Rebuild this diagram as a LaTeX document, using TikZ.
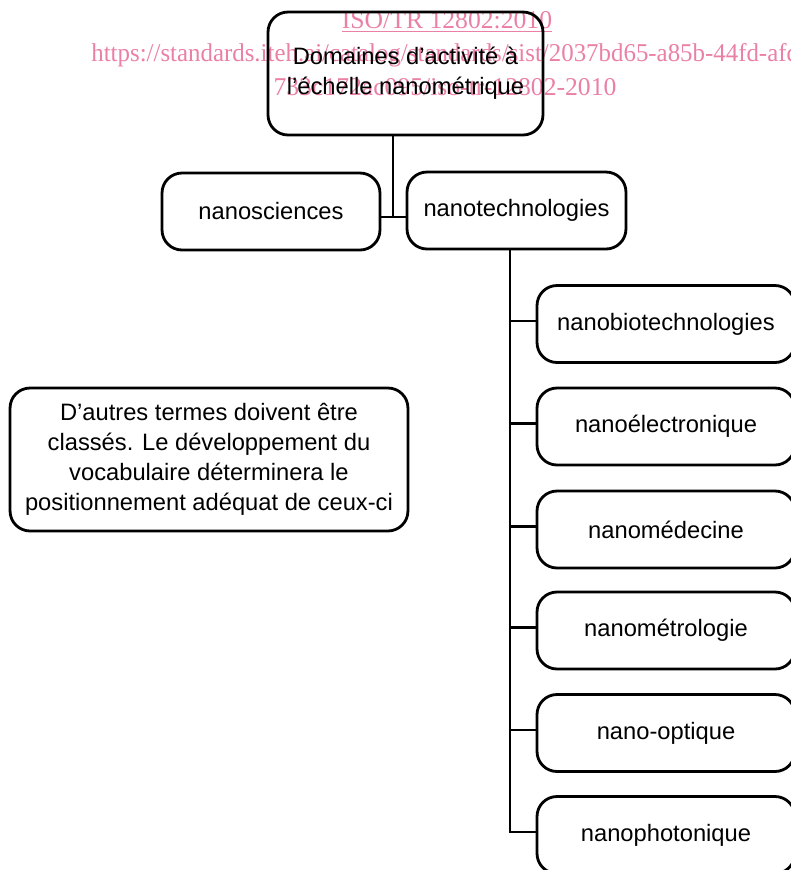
\documentclass[tikz,border=0pt]{standalone}
\usepackage{fontspec}
\setmainfont{Liberation Sans}
\newfontfamily\wmfont{Liberation Serif}
\usetikzlibrary{positioning}
\definecolor{wmpink}{RGB}{234,128,166}

\begin{document}
\begin{tikzpicture}[x=0.02cm,y=-0.02cm,line width=1.6pt,
  term node/.style={draw,rounded corners=0.4cm,align=center,minimum height=1.54cm,inner sep=2pt,font=\fontsize{13.5}{17}\selectfont},
  sub node/.style={term node,minimum width=5.16cm},
  mark text/.style={text=wmpink,font=\wmfont\fontsize{14.6}{17}\selectfont,inner sep=0pt}]
  \useasboundingbox (0,0) rectangle (791,870);
  % filigrane
  \node[mark text] (wm1) at (447,22) {\color{wmpink}\underline{ISO/TR 12802:2010}};
  \node[mark text,anchor=west,xscale=0.97] (wm2) at (90,55) {https://standards.iteh.ai/catalog/standards/sist/2037bd65-a85b-44fd-afd4-};
  \node[mark text] (wm3) at (445,87) {733c172ac095/iso-tr-12802-2010};

  \node[term node,minimum width=5.5cm,minimum height=2.46cm] (top) at (405.5,73.5) {Domaines d’activité à\\l’échelle nanométrique};
  \node[term node,minimum width=4.36cm] (sci) at (271,211.5) {nanosciences};
  \node[term node,minimum width=4.38cm] (tech) at (516.5,210.5) {nanotechnologies};

  \node[sub node] (bio) at (666,324) {nanobiotechnologies};
  \node[sub node] (elec) at (666,426.5) {nanoélectronique};
  \node[sub node] (med) at (666,529.5) {nanomédecine};
  \node[sub node] (metro) at (666,630.5) {nanométrologie};
  \node[sub node] (optique) at (666,733) {nano-optique};
  \node[sub node] (photo) at (666,835) {nanophotonique};

  \node[term node,minimum width=7.96cm,minimum height=2.86cm] (note) at (209,459.5)
    {D’autres termes doivent être\\classés. Le développement du\\vocabulaire déterminera le\\positionnement adéquat de ceux-ci};

  \coordinate (j1) at (393,217);
  \coordinate (trunk) at (510,0);
  \draw (top.south -| j1) -- (j1);
  \draw (sci.east |- j1) -- (tech.west |- j1);
  \draw (tech.south -| trunk) -- ([yshift=1.7pt]trunk |- photo.west) -- ([yshift=1.7pt]photo.west);
  \foreach \n in {bio,elec,med,metro,optique}
    \draw ([yshift=1.7pt]trunk |- \n.west) -- ([yshift=1.7pt]\n.west);
\end{tikzpicture}
\end{document}
